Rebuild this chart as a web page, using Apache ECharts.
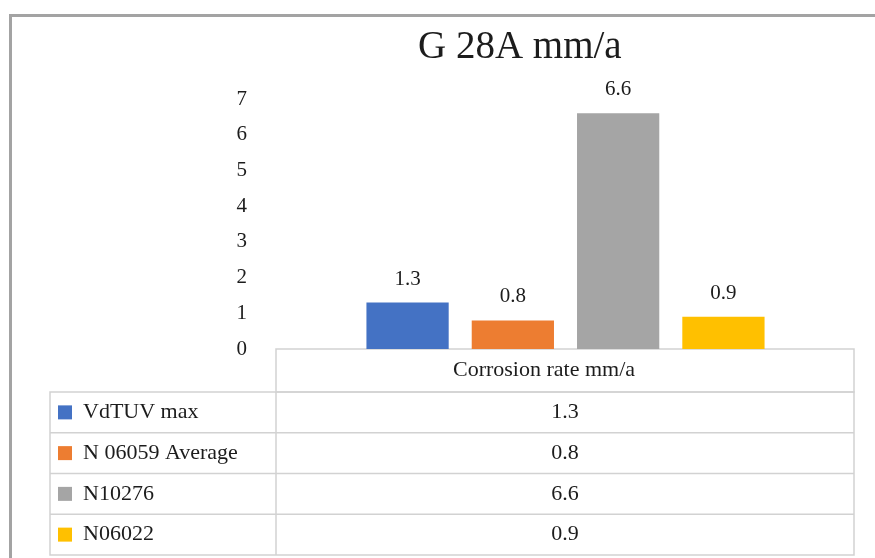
<!DOCTYPE html>
<html>
<head>
<meta charset="utf-8">
<style>
  html, body { margin: 0; padding: 0; background: #ffffff; }
  #chart { width: 875px; height: 558px; }
</style>
<script src="https://cdn.jsdelivr.net/npm/echarts@6/dist/echarts.min.js"></script>
</head>
<body>
<div id="chart"></div>
<script>
// Data
const categories = ['Corrosion rate mm/a'];
const seriesNames = ['VdTUV max', 'N 06059 Average', 'N10276', 'N06022'];
const seriesValues = [1.3, 0.8, 6.6, 0.9];
const seriesColors = ['#4472C4', '#ED7D31', '#A5A5A5', '#FFC000'];
const yTicks = { min: 0, max: 7, interval: 1 };

const FONT = '"Liberation Serif", "Times New Roman", serif';
const TEXT = '#1c1c1c';

// Data-table geometry (below the plot)
const tbl = {
  left: 50, split: 276, right: 854,
  headerTop: 349, bodyTop: 392, bottom: 555,
  valueX: 565, headerX: 544, line: '#d2d2d2'
};
const rowH = (tbl.bottom - tbl.bodyTop) / seriesNames.length;

const chart = echarts.init(document.getElementById('chart'));

const graphics = [];
// outer frame (top and left edges)
graphics.push({ type: 'line', shape: { x1: 9, y1: 15.5, x2: 875, y2: 15.5 },
  style: { stroke: '#a3a3a3', lineWidth: 3 }, silent: true });
graphics.push({ type: 'line', shape: { x1: 10.5, y1: 14, x2: 10.5, y2: 558 },
  style: { stroke: '#a3a3a3', lineWidth: 3 }, silent: true });

// table borders
graphics.push({ type: 'rect', shape: { x: tbl.split, y: tbl.headerTop, width: tbl.right - tbl.split, height: tbl.bodyTop - tbl.headerTop },
  style: { fill: 'none', stroke: tbl.line, lineWidth: 1.5 }, silent: true });
graphics.push({ type: 'rect', shape: { x: tbl.left, y: tbl.bodyTop, width: tbl.right - tbl.left, height: tbl.bottom - tbl.bodyTop },
  style: { fill: 'none', stroke: tbl.line, lineWidth: 1.5 }, silent: true });
graphics.push({ type: 'line', shape: { x1: tbl.split, y1: tbl.bodyTop, x2: tbl.split, y2: tbl.bottom },
  style: { stroke: tbl.line, lineWidth: 1.5 }, silent: true });
for (let i = 1; i < seriesNames.length; i++) {
  const y = tbl.bodyTop + rowH * i;
  graphics.push({ type: 'line', shape: { x1: tbl.left, y1: y, x2: tbl.right, y2: y },
    style: { stroke: tbl.line, lineWidth: 1.5 }, silent: true });
}
// header text
graphics.push({ type: 'text', x: tbl.headerX, y: (tbl.headerTop + tbl.bodyTop) / 2,
  style: { text: categories[0], font: '22px ' + FONT, fill: TEXT, align: 'center', verticalAlign: 'middle' }, silent: true });
// value cells
seriesValues.forEach((v, i) => {
  graphics.push({ type: 'text', x: tbl.valueX, y: tbl.bodyTop + rowH * (i + 0.5),
    style: { text: String(v), font: '22px ' + FONT, fill: TEXT, align: 'center', verticalAlign: 'middle' }, silent: true });
});

const series = seriesNames.map((name, i) => ({
  name: name,
  type: 'bar',
  data: [seriesValues[i]],
  itemStyle: { color: seriesColors[i] },
  barGap: '28%',
  barCategoryGap: '31%',
  label: {
    show: true, position: 'top', distance: 13,
    fontFamily: FONT, fontSize: 21, color: TEXT
  },
  emphasis: { disabled: true }
}));

chart.setOption({
  backgroundColor: '#ffffff',
  animation: false,
  title: {
    text: 'G 28A mm/a',
    left: 413, top: 23,
    textStyle: { fontFamily: FONT, fontSize: 39, fontWeight: 'normal', color: TEXT }
  },
  legend: {
    orient: 'vertical',
    left: 58, top: tbl.bodyTop + rowH / 2 - 11,
    padding: 0,
    icon: 'rect', itemWidth: 14, itemHeight: 14,
    itemGap: rowH - 22,
    data: seriesNames,
    selectedMode: false,
    textStyle: { fontFamily: FONT, fontSize: 22, lineHeight: 22, color: TEXT, padding: [0, 0, 0, 6] }
  },
  grid: { left: 277, right: 21, top: 99, bottom: 209 },
  xAxis: {
    type: 'category',
    data: categories,
    axisLine: { show: false },
    axisTick: { show: false },
    axisLabel: { show: false }
  },
  yAxis: {
    type: 'value',
    min: yTicks.min, max: yTicks.max, interval: yTicks.interval,
    axisLine: { show: false },
    axisTick: { show: false },
    splitLine: { show: false },
    axisLabel: { fontFamily: FONT, fontSize: 21, color: TEXT, margin: 30 }
  },
  series: series,
  graphic: graphics
});
</script>
</body>
</html>
